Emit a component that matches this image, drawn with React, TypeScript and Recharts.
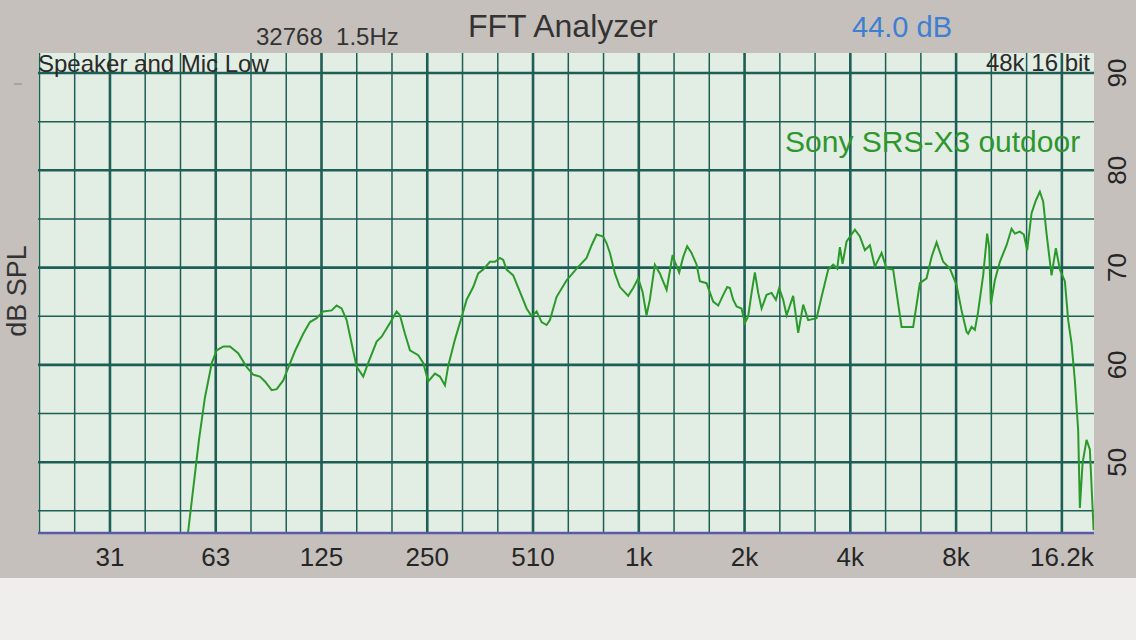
import React from 'react';
import { LineChart, Line, XAxis, YAxis, CartesianGrid } from 'recharts';

// frequency (Hz) and level (dB SPL)
const FREQ_HZ = [
  52.1, 56.0, 58.2, 60.9, 62.9, 65.7, 68.6, 72.4, 76.5, 79.9,
  83.5, 86.3, 90.2, 93.2, 97.3, 100.5, 105.0, 110.9, 115.9, 121.1,
  126.4, 133.6, 138.0, 142.6, 147.4, 152.3, 157.4, 164.3, 169.8, 179.4,
  185.4, 195.8, 204.5, 209.0, 216.0, 223.2, 235.6, 243.5, 251.6, 262.9,
  271.6, 280.7, 286.8, 299.7, 313.1, 323.6, 337.9, 349.1, 360.7, 376.9,
  389.5, 402.5, 411.3, 420.5, 439.1, 458.9, 479.4, 495.4, 511.9, 528.9,
  546.5, 558.5, 583.6, 623.1, 665.2, 710.3, 734.0, 758.4, 791.9, 809.8,
  827.6, 855.1, 883.6, 933.0, 964.0, 996.1, 1025, 1052, 1075, 1111,
  1148, 1200, 1248, 1267, 1303, 1338, 1373, 1413, 1461, 1492,
  1559, 1628, 1683, 1739, 1785, 1817, 1856, 1898, 1961, 2004,
  2048, 2094, 2140, 2187, 2236, 2310, 2387, 2456, 2509, 2576,
  2634, 2750, 2842, 2937, 3034, 3206, 3313, 3460, 3575, 3670,
  3735, 3802, 3903, 4121, 4258, 4400, 4547, 4698, 4909, 5072,
  5296, 5416, 5596, 5843, 6038, 6309, 6592, 6812, 7039, 7350,
  7680, 8024, 8291, 8567, 8658, 8853, 9046, 9227, 9552, 9806,
  9935, 10046, 10314, 10657, 11135, 11506, 11758, 12149, 12471, 12745,
  13118, 13492, 13850, 14153, 14472, 14954, 15382, 15790, 16318, 16675,
  17049, 17422, 17803, 18003, 18325, 18811, 19222, 19700,
];

const SPL_DB = [
  42.7, 52.3, 56.6, 60.2, 61.5, 61.9, 61.9, 61.2, 59.8, 59.0,
  58.8, 58.3, 57.4, 57.5, 58.4, 59.7, 61.4, 63.2, 64.4, 64.8,
  65.5, 65.6, 66.1, 65.8, 64.6, 62.2, 59.8, 58.8, 60.2, 62.4,
  62.9, 64.3, 65.5, 65.1, 63.2, 61.5, 61.0, 60.2, 58.3, 59.1,
  58.8, 57.9, 59.9, 62.6, 64.9, 66.7, 68.0, 69.4, 69.8, 70.6,
  70.6, 71.0, 70.8, 69.8, 69.2, 67.5, 65.8, 65.0, 65.5, 64.4,
  64.1, 64.6, 67.0, 68.7, 69.9, 71.0, 72.3, 73.4, 73.2, 72.5,
  71.5, 69.4, 68.0, 67.1, 67.9, 68.9, 67.5, 65.1, 66.7, 70.3,
  69.4, 67.7, 71.3, 70.6, 69.5, 71.1, 72.2, 71.5, 70.3, 68.6,
  68.4, 66.5, 66.1, 67.2, 68.0, 67.9, 66.7, 66.0, 65.8, 64.3,
  65.0, 67.4, 69.5, 67.4, 65.8, 67.2, 67.4, 66.7, 67.9, 66.7,
  65.1, 67.1, 63.3, 66.2, 64.6, 64.8, 67.0, 69.8, 70.3, 69.9,
  72.1, 70.4, 72.7, 73.9, 73.2, 71.8, 72.3, 70.1, 71.5, 69.9,
  69.8, 67.4, 63.9, 63.9, 63.9, 68.4, 68.9, 71.1, 72.6, 70.6,
  69.9, 68.2, 65.6, 63.4, 63.2, 63.9, 63.6, 65.3, 69.2, 73.5,
  72.1, 66.2, 68.7, 70.6, 72.3, 74.0, 73.5, 73.7, 73.4, 71.8,
  75.6, 76.9, 77.8, 76.8, 73.5, 69.2, 72.0, 69.8, 68.6, 64.6,
  62.2, 58.4, 53.3, 45.3, 49.9, 52.3, 51.3, 43.0,
];

// octave ticks and their printed labels
const OCTAVE_HZ = [31.25, 62.5, 125, 250, 500, 1000, 2000, 4000, 8000, 16000];
const OCTAVE_LABELS = ['31', '63', '125', '250', '510', '1k', '2k', '4k', '8k', '16.2k'];
// third-octave grid lines between the octaves
const THIRD_OCTAVE_HZ = [
  19.69, 24.8, 39.37, 49.61, 78.75, 99.21, 157.5, 198.4, 315, 396.9,
  630, 793.7, 1260, 1587, 2520, 3175, 5040, 6350, 10079, 12699,
];

const DB_TICKS = [50, 60, 70, 80, 90];
const DB_MINOR = [45, 55, 65, 75, 85];

const FREQ_DOMAIN = [19.5, 19750];
const DB_DOMAIN = [42.72, 92.06];

const data = FREQ_HZ.map((f, i) => ({ f, db: SPL_DB[i] }));

const FONT = '"Liberation Sans", Arial, Helvetica, sans-serif';
const GRID = '#1d5e55';

const DbTick = ({ x, y, payload }: any) => {
  const cx = x + 23;
  return (
    <text
      x={cx}
      y={y}
      transform={`rotate(-90 ${cx} ${y})`}
      textAnchor="middle"
      dy="0.36em"
      fontSize={26}
      fontFamily={FONT}
      fill="#262626"
    >
      {payload.value}
    </text>
  );
};

export default function App() {
  return (
    <div style={{ position: 'fixed', left: 0, top: 0, width: 1136, height: 640, background: '#efeeec', overflow: 'hidden' }}>
      <div style={{ position: 'absolute', left: 0, top: 0, width: 1136, height: 578, background: '#c5c0bc' }} />
      <div style={{ position: 'absolute', left: 38, top: 53, width: 1056, height: 480, background: '#e2eee3' }} />
      <div style={{ position: 'absolute', left: 0, top: 0 }}>
        <LineChart width={1136} height={578} data={data} margin={{ top: 53, right: 0, bottom: 15, left: 38 }}>
          <CartesianGrid
            horizontalValues={DB_MINOR}
            verticalValues={THIRD_OCTAVE_HZ}
            stroke={GRID}
            strokeWidth={1.5}
            strokeDasharray=""
          />
          <CartesianGrid
            horizontalValues={DB_TICKS}
            verticalValues={OCTAVE_HZ}
            stroke={GRID}
            strokeWidth={2.6}
            strokeDasharray=""
          />
          <XAxis
            dataKey="f"
            type="number"
            scale="log"
            domain={FREQ_DOMAIN}
            allowDataOverflow
            ticks={OCTAVE_HZ}
            interval={0}
            tickFormatter={(v: number) => OCTAVE_LABELS[OCTAVE_HZ.indexOf(v)] ?? ''}
            tickLine={false}
            tickSize={0}
            tickMargin={15}
            height={30}
            axisLine={{ stroke: '#5b5aa6', strokeWidth: 2.5 }}
            tick={{ fill: '#262626', fontSize: 26, fontFamily: FONT }}
          />
          <YAxis
            orientation="right"
            type="number"
            domain={DB_DOMAIN}
            allowDataOverflow
            ticks={DB_TICKS}
            interval={0}
            width={42}
            tickLine={false}
            tickSize={0}
            tickMargin={0}
            axisLine={false}
            tick={<DbTick />}
          />
          <Line
            type="linear"
            dataKey="db"
            stroke="#2b9a2b"
            strokeWidth={2}
            dot={false}
            activeDot={false}
            isAnimationActive={false}
          />
        </LineChart>
      </div>
      <svg width={1136} height={640} style={{ position: 'absolute', left: 0, top: 0, pointerEvents: 'none' }} fontFamily={FONT}>
        <text x={256} y={45} fontSize={24} fill="#333" style={{ whiteSpace: 'pre' }}>{'32768  1.5Hz'}</text>
        <text x={468} y={37} fontSize={32} fill="#333">FFT Analyzer</text>
        <text x={852} y={37} fontSize={29} fill="#3d7fd1">44.0 dB</text>
        <text x={38} y={72} fontSize={24} fill="#2a2a2a">Speaker and Mic Low</text>
        <text x={1090} y={71} fontSize={24} fill="#2a2a2a" textAnchor="end">48k 16 bit</text>
        <text x={785} y={152} fontSize={30} fill="#2f962f">Sony SRS-X3 outdoor</text>
        <text x={16} y={291} fontSize={27} fill="#333" textAnchor="middle" dy="0.36em" transform="rotate(-90 16 291)">dB SPL</text>
        <line x1={14} y1={84} x2={22} y2={84} stroke="#8a8683" strokeWidth={1} />
      </svg>
    </div>
  );
}
